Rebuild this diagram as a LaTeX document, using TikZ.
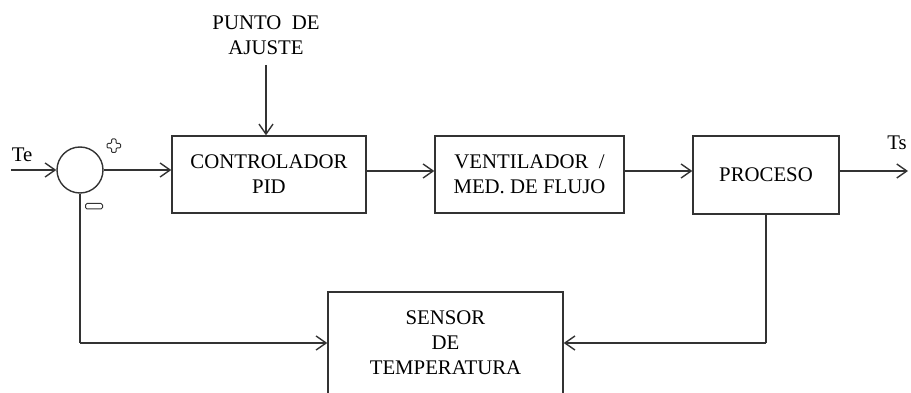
\documentclass[tikz,border=0pt]{standalone}
\usepackage{fontspec}
\setmainfont{Liberation Serif}
\usetikzlibrary{arrows.meta}
\definecolor{ln}{HTML}{333333}
\tikzset{
  blk/.style={draw=ln, line width=1.4pt, fill=white, align=center, inner sep=0pt,
              font=\fontsize{20.8}{25}\selectfont},
  lbl/.style={align=center, inner sep=0pt, font=\fontsize{20.8}{25}\selectfont},
  conn/.style={draw=ln, line width=1.4pt, -{Straight Barb[length=10pt,width=14pt,line width=1.4pt]}},
  wire/.style={draw=ln, line width=1.4pt},
}
\begin{document}
\begin{tikzpicture}[x=1pt,y=-1pt]
\useasboundingbox (0,0) rectangle (911,393);
\clip (0,0) rectangle (911,393);
% blocks
\node[blk, minimum width=194pt, minimum height=77pt] (pid) at (269,174.5) {CONTROLADOR\\PID};
\node[blk, minimum width=189pt, minimum height=77pt] (ven) at (529.5,174.5) {VENTILADOR~ /\\MED. DE FLUJO};
\node[blk, minimum width=146pt, minimum height=78pt] (pro) at (766,175) {PROCESO};
\node[blk, minimum width=235pt, minimum height=102pt] (sen) at (445.5,343) {SENSOR\\DE\\TEMPERATURA};
\node[draw=ln, line width=1.4pt, circle, minimum size=46pt, inner sep=0pt] (sum) at (80,170) {};
% labels
\node[lbl] (set) at (266,35) {PUNTO~ DE\\AJUSTE};
\node[lbl] (te) at (22,155) {Te};
\node[lbl] (ts) at (897,143) {Ts};
\coordinate (tein) at (11,170);
\coordinate (tsout) at (908,171);
\coordinate (settop) at (266,65);
\coordinate (fbr) at (pro.south |- sen.east);
\coordinate (fbl) at (sum.south |- sen.west);
% connectors
\draw[conn] (tein) -- (sum.west);
\draw[conn] (sum.east) -- (pid.west |- sum.east);
\draw[conn] (settop) -- (settop |- pid.north);
\draw[conn] (pid.east |- 0,171) -- (ven.west |- 0,171);
\draw[conn] (ven.east |- 0,171) -- (pro.west |- 0,171);
\draw[conn] (pro.east |- 0,171) -- (tsout);
\draw[wire] (pro.south) -- (fbr);
\draw[conn] (fbr) -- (sen.east);
\draw[wire] (sum.south) -- (fbl);
\draw[conn] (fbl) -- (sen.west);
% plus and minus signs
\draw[ln, line width=1pt, fill=white, rounded corners=1pt]
  (111.5,139) -- (116,139) -- (116,143.5) -- (120.5,143.5) -- (120.5,148) -- (116,148)
  -- (116,152.5) -- (111.5,152.5) -- (111.5,148) -- (107,148) -- (107,143.5) -- (111.5,143.5) -- cycle;
\draw[ln, line width=1pt, fill=white, rounded corners=1.5pt] (85.5,203.5) rectangle (102.5,209);
\end{tikzpicture}
\end{document}
